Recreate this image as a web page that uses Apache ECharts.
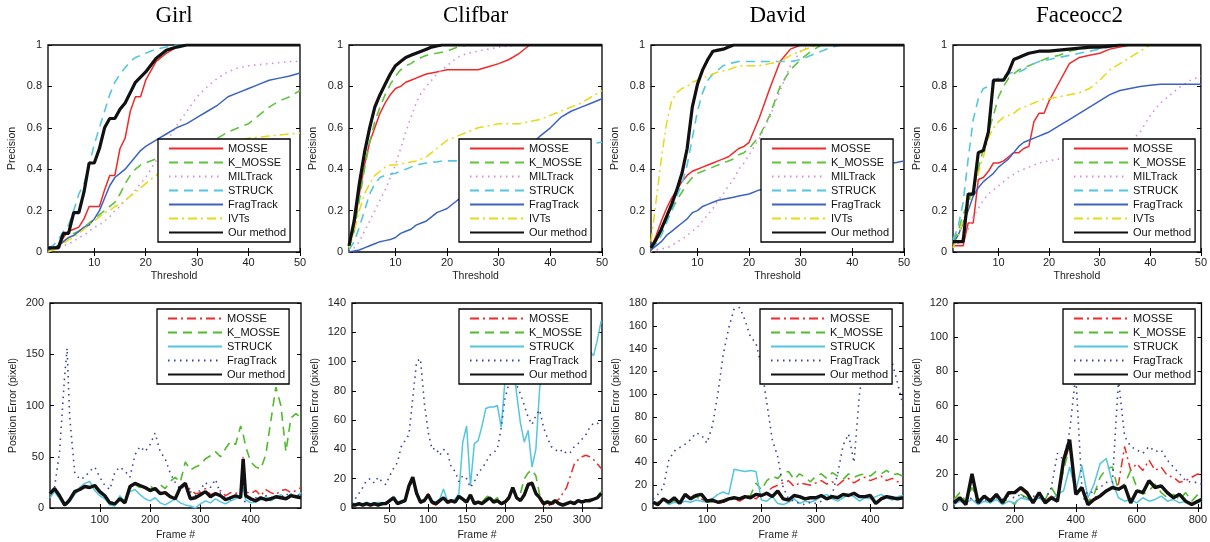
<!DOCTYPE html>
<html><head><meta charset="utf-8">
<script src="https://cdn.jsdelivr.net/npm/echarts@6/dist/echarts.min.js"></script>
<style>html,body{margin:0;padding:0;background:#fff}#c{width:1210px;height:542px}</style>
</head><body><div id="c"></div>
<script>
// ---------- DATA: precision plots ----------
const thresholds = [1,2,3,4,5,6,7,8,9,10,11,12,13,14,15,16,17,18,19,20,22,24,26,28,30,32,34,36,38,40,42,44,46,48,50];
const precTicks = [10,20,30,40,50];

const girlPrecMOSSE  = [.02,.02,.03,.07,.1,.11,.12,.16,.22,.22, .22,.3,.37,.37,.5,.55,.68,.75,.75,.83, .92,.96,.99,1,1,1,1,1,1,1,1,1,1,1,1];
const girlPrecKMOSSE = [.01,.02,.03,.05,.07,.09,.1,.12,.14,.16, .18,.2,.22,.24,.28,.33,.37,.4,.42,.43, .45,.47,.49,.51,.52,.53,.55,.58,.6,.62,.66,.7,.73,.75,.78];
const girlPrecMIL    = [0,.01,.02,.03,.04,.05,.07,.08,.1,.12, .13,.15,.17,.2,.22,.25,.27,.3,.33,.36, .44,.53,.61,.68,.75,.8,.84,.87,.89,.9,.905,.91,.915,.92,.92];
const girlPrecSTRUCK = [.02,.03,.06,.1,.13,.2,.28,.33,.42,.52, .6,.68,.76,.82,.86,.89,.92,.94,.95,.96, .98,.99,1,1,1,1,1,1,1,1,1,1,1,1,1];
const girlPrecFrag   = [.01,.02,.03,.05,.07,.08,.1,.12,.13,.16, .2,.26,.32,.36,.38,.4,.43,.46,.49,.51, .54,.57,.6,.62,.65,.68,.71,.75,.77,.79,.81,.83,.84,.85,.865];
const girlPrecIVT    = [0,.01,.02,.04,.06,.07,.09,.11,.13,.15, .17,.19,.2,.22,.23,.25,.27,.29,.31,.33, .37,.41,.44,.47,.49,.51,.52,.53,.54,.55,.555,.56,.565,.57,.575];
const girlPrecOurs   = [.02,.02,.02,.09,.09,.19,.19,.29,.43,.43, .5,.6,.645,.645,.69,.72,.77,.82,.845,.87, .935,.975,.99,1,1,1,1,1,1,1,1,1,1,1,1];

const clifPrecMOSSE  = [.03,.12,.28,.42,.53,.6,.67,.72,.76,.79, .8,.82,.83,.84,.85,.86,.865,.87,.875,.88, .88,.88,.88,.895,.91,.93,.96,1,1,1,1,1,1,1,1];
const clifPrecKMOSSE = [.02,.1,.25,.4,.53,.63,.7,.76,.81,.85, .88,.9,.91,.93,.94,.95,.955,.96,.965,.97, .99,1,1,1,1,1,1,1,1,1,1,1,1,1,1];
const clifPrecMIL    = [0,.02,.05,.1,.15,.2,.25,.3,.36,.42, .5,.58,.65,.72,.77,.8,.83,.86,.88,.9, .94,.96,.97,.98,.99,.995,1,1,1,1,1,1,1,1,1];
const clifPrecSTRUCK = [.01,.05,.12,.2,.28,.33,.36,.37,.375,.38, .39,.4,.41,.42,.425,.43,.435,.435,.44,.44, .44,.45,.455,.46,.465,.47,.475,.48,.49,.5,.51,.515,.52,.525,.53];
const clifPrecFrag   = [0,.005,.01,.02,.03,.04,.05,.055,.06,.07, .09,.1,.11,.13,.14,.15,.17,.19,.2,.21, .25,.28,.31,.35,.39,.43,.47,.51,.56,.6,.65,.68,.7,.72,.74];
const clifPrecIVT    = [.02,.1,.2,.28,.33,.37,.39,.41,.42,.42, .425,.43,.435,.44,.45,.46,.48,.5,.52,.54, .56,.58,.6,.61,.62,.62,.62,.63,.64,.66,.68,.7,.72,.75,.78];
const clifPrecOurs   = [.03,.15,.33,.48,.6,.7,.76,.81,.86,.9, .92,.94,.95,.96,.97,.98,.99,.995,1,1, 1,1,1,1,1,1,1,1,1,1,1,1,1,1,1];

const davPrecMOSSE   = [.02,.08,.15,.21,.26,.3,.34,.37,.39,.4, .41,.42,.43,.44,.45,.46,.48,.5,.51,.53, .65,.79,.92,.98,1,1,1,1,1,1,1,1,1,1,1];
const davPrecKMOSSE  = [.01,.05,.1,.15,.2,.25,.29,.33,.36,.38, .39,.4,.41,.42,.43,.44,.45,.47,.48,.5, .56,.66,.8,.88,.93,.97,1,1,1,1,1,1,1,1,1];
const davPrecMIL     = [0,.01,.015,.02,.03,.05,.06,.08,.1,.12, .15,.18,.21,.25,.28,.32,.35,.4,.43,.47, .55,.65,.78,.9,.97,1,1,1,1,1,1,1,1,1,1];
const davPrecSTRUCK  = [.01,.04,.08,.14,.2,.27,.33,.42,.55,.68, .77,.83,.86,.88,.9,.91,.915,.92,.92,.92, .92,.92,.92,.92,.93,.95,.97,.99,1,1,1,1,1,1,1];
const davPrecFrag    = [.01,.03,.05,.08,.1,.12,.14,.16,.19,.2, .22,.23,.24,.25,.255,.26,.265,.27,.275,.28, .3,.31,.32,.33,.34,.35,.36,.37,.38,.39,.4,.41,.42,.43,.44];
const davPrecIVT     = [.05,.25,.45,.62,.73,.77,.79,.8,.82,.83, .84,.85,.86,.87,.875,.88,.89,.9,.9,.9, .9,.91,.92,.95,.97,.99,1,1,1,1,1,1,1,1,1];
const davPrecOurs    = [.02,.06,.11,.17,.23,.3,.38,.5,.7,.81, .88,.93,.97,.975,.98,.99,1,1,1,1, 1,1,1,1,1,1,1,1,1,1,1,1,1,1,1];

const facePrecMOSSE  = [.03,.03,.03,.14,.14,.35,.36,.39,.43,.43, .44,.46,.48,.48,.5,.51,.63,.67,.67,.73, .82,.91,.94,.95,.96,.98,.99,1,1,1,1,1,1,1,1];
const facePrecKMOSSE = [.05,.1,.18,.24,.3,.4,.5,.58,.66,.75, .8,.84,.86,.88,.89,.9,.91,.92,.93,.94, .95,.97,.98,.985,.99,.995,1,1,1,1,1,1,1,1,1];
const facePrecMIL    = [.02,.04,.07,.11,.17,.21,.25,.28,.3,.32, .34,.36,.375,.39,.4,.41,.42,.43,.435,.44, .45,.46,.465,.47,.475,.48,.5,.53,.58,.66,.72,.76,.8,.83,.85];
const facePrecSTRUCK = [.06,.12,.24,.45,.64,.74,.79,.8,.82,.84, .85,.86,.87,.87,.88,.9,.91,.92,.925,.93, .94,.95,.96,.97,.98,.99,1,1,1,1,1,1,1,1,1];
const facePrecFrag   = [.04,.08,.14,.2,.27,.31,.34,.36,.38,.41, .43,.45,.48,.51,.53,.54,.55,.56,.57,.58, .61,.64,.67,.7,.73,.76,.78,.79,.8,.805,.81,.81,.81,.81,.81];
const facePrecIVT    = [.02,.08,.15,.22,.3,.38,.46,.55,.6,.63, .65,.66,.67,.69,.7,.71,.72,.73,.74,.74, .75,.76,.77,.79,.83,.88,.91,.94,.97,1,1,1,1,1,1];
const facePrecOurs   = [.05,.05,.05,.28,.28,.48,.49,.58,.83,.83, .83,.87,.93,.94,.95,.96,.965,.97,.97,.97, .975,.98,.985,.99,.99,.995,1,1,1,1,1,1,1,1,1];

// ---------- DATA: position error plots ----------
const girlFrames = [1,10,20,30,35,40, 50,60,70,80,90,100,110,120,130,140, 150,160,170,180,190,200,210,220,230,240, 250,260,270,280,290,300,310,320,330,340, 350,360,370,380, 385,390, 400,410,420,430,440,450,460,470,480,490,500];
const girlFrameTicks = [100,200,300,400];
const girlErrMOSSE  = [15,18,13,4,6,9, 15,19,20,21,21,17,11,6,5,8, 6,20,23,21,19,18,18,15,16,12, 10,19,22,18,14,15,19,13,15,17, 12,15,14,18, 50,16, 14,17,12,18,15,13,17,18,15,17,20];
const girlErrKMOSSE = [13,17,11,5,6,8, 14,17,22,19,20,15,11,6,5,10, 7,19,22,20,21,22,17,23,19,26, 30,25,45,37,40,42,48,51,55,50, 58,65,62,80, 72,60, 45,40,38,52,85,118,100,55,88,92,88];
const girlErrSTRUCK = [10,16,9,2,4,6, 13,20,24,26,17,12,9,3,2,12, 6,16,18,13,9,7,10,5,3,6, 9,5,3,2,0,4,7,5,9,6, 4,7,9,12, 20,8, 5,6,8,11,7,10,13,9,14,10,15];
const girlErrFrag   = [16,20,55,128,156,90, 35,28,30,36,40,30,22,18,35,40, 36,30,52,60,55,62,73,55,48,34, 25,18,22,16,12,18,25,20,28,14, 10,8,12,9, 7,6, 8,10,8,12,10,12,10,14,11,12,13];
const girlErrOurs   = [14,19,12,3,5,8, 16,18,21,20,22,16,12,5,4,9, 5,21,24,22,20,17,19,14,15,11, 9,20,24,9,10,13,16,11,14,12, 8,10,12,10, 48,12, 9,7,10,8,9,11,10,9,12,11,10];

const clifFrames = [1,5,10,15,20,25,30,35,40,45, 50,55,60,65,70,75,80,85,90,95, 100,105,110,115,120,125,130,135,140,145, 150,155,160,165,170,175,180,185,190,195, 200,205,210,215,220,225,230,235,240,245, 250,255,260,265,270,275,280,285,290,295, 300,305,310,315,320,325];
const clifFrameTicks = [50,100,150,200,250,300];
const clifErrMOSSE  = [2,2,3,2,2,3,2,3,3,2, 5,6,3,4,5,13,20,10,3,5, 10,3,2,4,6,3,4,5,7,5, 4,8,3,4,3,5,6,4,5,2, 4,6,15,6,6,10,17,18,9,6, 2,3,1,4,6,10,14,22,30,33, 35,36,35,33,30,27];
const clifErrKMOSSE = [2,3,2,3,3,2,3,3,2,3, 4,6,3,4,5,14,19,9,5,5, 8,5,3,6,6,4,5,5,7,6, 5,8,4,5,4,7,9,5,7,4, 5,8,13,8,10,20,24,26,22,9, 4,5,4,5,3,3,3,4,4,5, 4,5,6,6,8,11];
const clifErrSTRUCK = [3,3,2,3,4,3,3,4,3,4, 5,8,4,5,6,16,21,12,5,6, 8,5,4,6,13,5,4,6,10,45, 56,15,44,46,56,68,69,69,70,55, 88,112,100,78,58,45,53,28,40,82, 100,106,110,112,115,118,120,122,120,116, 112,110,107,104,115,128];
const clifErrFrag   = [3,6,10,14,19,20,17,21,18,16, 22,27,31,42,46,50,75,100,102,72, 52,40,41,36,40,38,28,25,18,22, 20,14,18,24,27,31,36,38,40,55, 75,85,90,84,78,70,62,57,63,67, 55,48,42,40,38,40,37,38,42,44, 47,50,55,58,58,55];
const clifErrOurs   = [2,2,3,2,3,2,3,2,3,3, 5,7,3,4,5,15,21,10,4,5, 9,4,3,5,7,4,5,4,8,6, 4,9,3,4,3,5,7,4,5,3, 4,7,14,7,5,9,16,17,10,7, 3,4,3,5,3,2,3,4,3,5, 4,5,5,6,7,10];

const davFrames = [1,10,20,30,40,50,60,70,80,90, 100,110,120,130,140,150,160,170,180,190, 200,210,220,230,240,250,260,270,280,290, 300,310,320,330,340,350,360,370,380,390, 400,410,420,430,440,450,460];
const davFrameTicks = [100,200,300,400];
const davErrMOSSE  = [4,5,6,4,7,5,10,9,13,8, 5,6,4,5,7,8,6,9,10,8, 12,14,18,20,22,24,19,22,21,20, 22,24,21,23,20,24,26,22,25,27, 24,26,28,24,26,23,24];
const davErrKMOSSE = [5,4,7,5,6,4,11,8,10,7, 6,5,6,7,8,9,8,10,11,22, 16,24,28,26,31,32,25,30,27,23, 28,30,26,31,28,25,30,27,29,30, 28,32,30,33,29,30,28];
const davErrSTRUCK = [6,4,7,3,5,4,6,5,7,6, 5,8,12,14,12,34,33,32,33,32, 7,6,10,4,3,5,8,4,6,5, 7,10,12,8,6,9,12,10,6,9, 8,10,12,9,7,10,11];
const davErrFrag   = [8,12,18,42,50,53,56,60,66,64, 57,72,100,135,158,175,176,165,150,145, 125,92,60,45,18,8,6,4,3,5, 4,6,8,12,30,55,65,40,100,130, 138,142,140,135,128,110,90];
const davErrOurs   = [5,3,8,5,9,4,12,8,11,12, 6,7,5,6,8,9,8,10,9,12, 11,13,10,15,8,7,11,10,8,9, 9,11,8,10,9,12,11,13,10,10, 11,4,8,10,9,8,9];

const faceFrames = [1,20,40,60,80,100,120,140,160,180, 200,220,240,260,280,300,320,340,360,380, 400,420,440,460,480,500,520,540,560,580, 600,620,640,660,680,700,720,740,760,780, 800,812];
const faceFrameTicks = [200,400,600,800];
const faceErrMOSSE  = [4,5,3,18,4,6,5,7,4,8, 9,11,8,4,8,4,7,5,25,37, 9,11,4,6,8,10,12,14,36,22, 26,22,28,22,24,19,18,15,16,18, 20,19];
const faceErrKMOSSE = [5,9,4,12,5,6,3,7,4,5, 2,8,6,4,8,5,12,6,22,36, 10,6,4,8,18,23,24,10,14,22, 12,8,10,14,9,6,8,5,9,4, 8,5];
const faceErrSTRUCK = [2,4,3,5,2,4,3,5,2,4, 3,6,5,4,6,3,5,8,10,24, 10,25,6,14,26,29,15,6,4,5, 3,6,4,5,7,4,5,3,4,2, 3,4];
const faceErrFrag   = [3,5,4,6,3,5,4,6,5,7, 6,8,5,7,6,5,12,32,28,45, 78,12,8,10,12,15,15,75,42,36, 34,32,36,33,34,28,24,20,16,15, 15,14];
const faceErrOurs   = [3,6,2,20,3,7,4,8,3,9, 9,12,9,3,9,3,6,4,28,40, 8,12,2,5,7,10,12,11,13,3, 10,9,16,12,13,9,6,8,4,2, 4,5];

const titles = ['Girl','Clifbar','David','Faceocc2'];
const precNames = ['MOSSE','K_MOSSE','MILTrack','STRUCK','FragTrack','IVTs','Our method'];
const errNames = ['MOSSE','K_MOSSE','STRUCK','FragTrack','Our method'];

// ---------- LAYOUT / STYLE ----------
const FONT = '"Liberation Sans", Arial, Helvetica, sans-serif';
const precGrids = [[48,45,252,207],[349,45,253,207],[651,45,253,207],[953,45,253,207]];
const errGrids  = [[50,303,251,205],[352,303,250,205],[653,303,250,205],[954,303,251,205]];
const precLegendPos = [[158,139],[459,139],[761,139],[1063,139]];
const errLegendPos  = [[157,309],[459,309],[760,309],[1063,309]];

const precStyle = {
  'MOSSE':      {color:'#f02a2a', type:'solid', width:1.5},
  'K_MOSSE':    {color:'#5fc43c', type:[9,6], width:1.6},
  'MILTrack':   {color:'#d98ad9', type:[1.5,4.5], width:1.6},
  'STRUCK':     {color:'#55c6df', type:[9,6], width:1.6},
  'FragTrack':  {color:'#3c63c4', type:'solid', width:1.5},
  'IVTs':       {color:'#e6da14', type:[9,4,2,4], width:1.5},
  'Our method': {color:'#111111', type:'solid', width:3.2}
};
const errStyle = {
  'MOSSE':      {color:'#f02a2a', type:[9,4,2,4], width:1.5},
  'K_MOSSE':    {color:'#52ba2c', type:[9,6], width:1.6},
  'STRUCK':     {color:'#55c6df', type:'solid', width:1.5},
  'FragTrack':  {color:'#34449e', type:[1.5,4.5], width:1.6},
  'Our method': {color:'#111111', type:'solid', width:3.4}
};

const precPanels = [
  [girlPrecMOSSE, girlPrecKMOSSE, girlPrecMIL, girlPrecSTRUCK, girlPrecFrag, girlPrecIVT, girlPrecOurs],
  [clifPrecMOSSE, clifPrecKMOSSE, clifPrecMIL, clifPrecSTRUCK, clifPrecFrag, clifPrecIVT, clifPrecOurs],
  [davPrecMOSSE, davPrecKMOSSE, davPrecMIL, davPrecSTRUCK, davPrecFrag, davPrecIVT, davPrecOurs],
  [facePrecMOSSE, facePrecKMOSSE, facePrecMIL, facePrecSTRUCK, facePrecFrag, facePrecIVT, facePrecOurs]
];
const errPanels = [
  {frames:girlFrames, ticks:girlFrameTicks, xMin:1, xMax:500, yMax:200, yInt:50, s:[girlErrMOSSE, girlErrKMOSSE, girlErrSTRUCK, girlErrFrag, girlErrOurs]},
  {frames:clifFrames, ticks:clifFrameTicks, xMin:1, xMax:326, yMax:140, yInt:20, s:[clifErrMOSSE, clifErrKMOSSE, clifErrSTRUCK, clifErrFrag, clifErrOurs]},
  {frames:davFrames, ticks:davFrameTicks, xMin:1, xMax:460, yMax:180, yInt:20, s:[davErrMOSSE, davErrKMOSSE, davErrSTRUCK, davErrFrag, davErrOurs]},
  {frames:faceFrames, ticks:faceFrameTicks, xMin:1, xMax:812, yMax:120, yInt:20, s:[faceErrMOSSE, faceErrKMOSSE, faceErrSTRUCK, faceErrFrag, faceErrOurs]}
];

// ---------- BUILD ----------
const grids = [], xAxes = [], yAxes = [], series = [], legends = [], titleOpts = [];
const labelStyle = {fontSize:11, color:'#1c1c1c', fontFamily:FONT};
const nameStyle = {fontSize:10.5, color:'#1c1c1c', fontFamily:FONT};

function addGrid(g, xMin, xMax, xTicks, yMax, yInt, xName, yName, xNameGap, yNameGap, xMargin) {
  const gi = grids.length;
  grids.push({left:g[0], top:g[1], width:g[2], height:g[3], show:true, borderColor:'#000', borderWidth:1.3, backgroundColor:'#fff'});
  const tick = {show:true, inside:true, length:4, customValues:xTicks, lineStyle:{color:'#000', width:1}};
  const xi = xAxes.length;
  xAxes.push({type:'value', gridIndex:gi, min:xMin, max:xMax, position:'bottom',
    axisLine:{show:false}, splitLine:{show:false}, axisTick:tick,
    axisLabel:Object.assign({show:true, customValues:xTicks, margin:xMargin}, labelStyle),
    name:xName, nameLocation:'middle', nameGap:xNameGap, nameTextStyle:nameStyle});
  xAxes.push({type:'value', gridIndex:gi, min:xMin, max:xMax, position:'top',
    axisLine:{show:false}, splitLine:{show:false}, axisTick:tick, axisLabel:{show:false}});
  const yi = yAxes.length;
  const ytick = {show:true, inside:true, length:4, lineStyle:{color:'#000', width:1}};
  yAxes.push({type:'value', gridIndex:gi, min:0, max:yMax, interval:yInt, position:'left',
    axisLine:{show:false}, splitLine:{show:false}, axisTick:ytick,
    axisLabel:Object.assign({margin:6}, labelStyle),
    name:yName, nameLocation:'middle', nameGap:yNameGap, nameTextStyle:nameStyle});
  yAxes.push({type:'value', gridIndex:gi, min:0, max:yMax, interval:yInt, position:'right',
    axisLine:{show:false}, splitLine:{show:false}, axisTick:ytick, axisLabel:{show:false}});
  return {xi, yi};
}

precPanels.forEach((arrs, p) => {
  const {xi, yi} = addGrid(precGrids[p], 1, 50, precTicks, 1, 0.2, 'Threshold', 'Precision', 19, 30, 5);
  arrs.forEach((vals, k) => {
    const nm = precNames[k], st = precStyle[nm];
    series.push({type:'line', name:nm, xAxisIndex:xi, yAxisIndex:yi, symbol:'none', showSymbol:false,
      data: thresholds.map((t, i) => [t, vals[i]]), color:st.color,
      lineStyle:{color:st.color, width:st.width, type:st.type}, silent:true, animation:false});
  });
  titleOpts.push({text:titles[p], left:(precGrids[p][0] + precGrids[p][2] / 2), top:4, textAlign:'center', padding:0,
    textStyle:{fontFamily:'"Liberation Serif", "Times New Roman", serif', fontSize:23, fontWeight:'normal', color:'#000'}});
  legends.push({data:precNames, left:precLegendPos[p][0], top:precLegendPos[p][1]});
});

errPanels.forEach((pn, p) => {
  const {xi, yi} = addGrid(errGrids[p], pn.xMin, pn.xMax, pn.ticks, pn.yMax, pn.yInt, 'Frame #', 'Position Error (pixel)', 22, 31, 6);
  pn.s.forEach((vals, k) => {
    const nm = errNames[k], st = errStyle[nm];
    series.push({type:'line', name:nm + '|e', xAxisIndex:xi, yAxisIndex:yi, symbol:'none', showSymbol:false,
      data: pn.frames.map((f, i) => [f, vals[i]]), color:st.color,
      lineStyle:{color:st.color, width:st.width, type:st.type}, silent:true, animation:false});
  });
  legends.push({data:errNames.map(n => n + '|e'), left:errLegendPos[p][0], top:errLegendPos[p][1]});
});

legends.forEach(l => Object.assign(l, {
  orient:'vertical', itemWidth:54, itemHeight:10, itemGap:3, padding:[4,4,4,10],
  borderColor:'#000', borderWidth:1.3, backgroundColor:'#fff', selectedMode:false,
  itemStyle:{opacity:0}, textStyle:{fontSize:11, color:'#111', fontFamily:FONT},
  formatter: n => n.split('|')[0]
}));

const chart = echarts.init(document.getElementById('c'), null, {renderer:'canvas'});
chart.setOption({
  animation:false, backgroundColor:'#fff',
  title:titleOpts, grid:grids, xAxis:xAxes, yAxis:yAxes, legend:legends, series:series
});
</script></body></html>
